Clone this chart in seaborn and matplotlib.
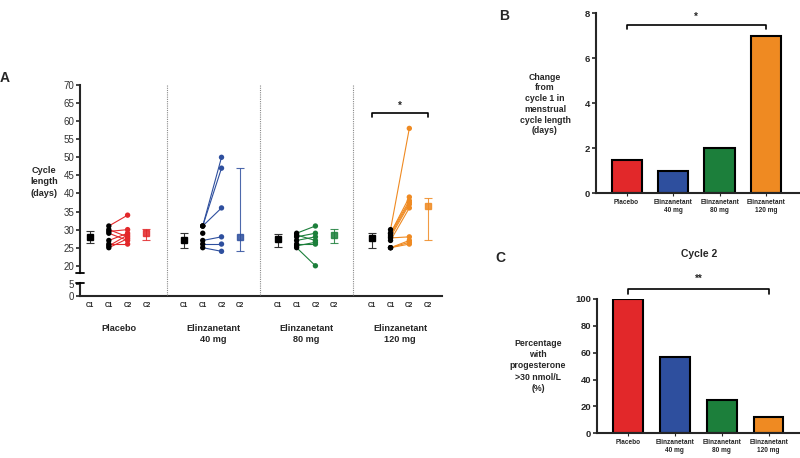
import numpy as np
import pandas as pd
import matplotlib
matplotlib.use("Agg")
import matplotlib.pyplot as plt
import seaborn as sns
from matplotlib.lines import Line2D
from matplotlib.transforms import blended_transform_factory

# ---- data ----
groups = ["Placebo", "Elinzanetant\n40 mg", "Elinzanetant\n80 mg", "Elinzanetant\n120 mg"]
colors = ["#E2282A", "#2E4F9E", "#1C7F3B", "#EF8A22"]
tick_names = ["C1", "C1", "C2", "C2"]

placebo_c1 = [31, 30, 29.5, 29, 27, 26, 25.5, 25]
placebo_c2 = [34, 28, 30, 27, 29, 26, 28.5, 27.5]
dose40_c1 = [31, 31, 31, 29, 27, 26, 25]
dose40_c2 = [50, 47, 36, np.nan, 28, 26, 24]
dose80_c1 = [29, 28.5, 28, 27, 26, 25.5, 25]
dose80_c2 = [31, 27, 29, 28, 26, 26.5, 20]
dose120_c1 = [30, 29, 29, 28.5, 28, 27, 27.7, 25, 25, 25]
dose120_c2 = [58, 39, 38, 37.5, 37, 36, 28, 27, 26.5, 26]

c1_mean = [28, 27, 27.4, 27.6]
c1_lo = [26.3, 25, 25.3, 25]
c1_hi = [29.5, 29, 28.8, 29]
c2_mean = [29, 28, 28.5, 36.4]
c2_lo = [27, 24, 26.3, 27.2]
c2_hi = [30.3, 47, 30.3, 38.7]

change_c1 = [1.5, 1, 2, 7]
pct_prog = [100, 57, 25, 12.5]

# ---- style ----
sns.set_style("ticks")
plt.rcParams['font.family'] = ['Liberation Sans', 'DejaVu Sans']

W, H = 800, 458
fig = plt.figure(figsize=(8, 4.58), dpi=100)

def box(l, t, r, b):
    return [l / W, 1 - b / H, (r - l) / W, (b - t) / H]

def ftext(x, y, s, **kw):
    fig.text(x / W, 1 - y / H, s, **kw)

axA = fig.add_axes(box(79.9, 85, 442, 273))
axA0 = fig.add_axes(box(79.9, 283, 442, 296))
axB = fig.add_axes(box(595.5, 13.3, 800, 193.3))
axC = fig.add_axes(box(596.7, 299, 800, 433.3))

# ---- panel A data frame ----
c1_lists = [placebo_c1, dose40_c1, dose80_c1, dose120_c1]
c2_lists = [placebo_c2, dose40_c2, dose80_c2, dose120_c2]
rows = []
for g, (a, b) in enumerate(zip(c1_lists, c2_lists)):
    for i, (v1, v2) in enumerate(zip(a, b)):
        pid = f"{g}_{i}"
        rows.append(dict(group=groups[g], pid=pid, cycle="C1", x=g * 5 + 1, val=v1))
        if not np.isnan(v2):
            rows.append(dict(group=groups[g], pid=pid, cycle="C2", x=g * 5 + 2, val=v2))
df = pd.DataFrame(rows)

pal = dict(zip(groups, colors))
sns.lineplot(data=df, x="x", y="val", hue="group", units="pid", estimator=None,
             palette=pal, lw=0.8, legend=False, ax=axA)
sns.scatterplot(data=df[df.cycle == "C1"], x="x", y="val", color="black", s=15,
                edgecolor="none", legend=False, ax=axA, zorder=3)
sns.scatterplot(data=df[df.cycle == "C2"], x="x", y="val", hue="group", palette=pal, s=15,
                edgecolor="none", legend=False, ax=axA, zorder=3)

for g in range(4):
    axA.errorbar(g * 5, c1_mean[g], yerr=[[c1_mean[g] - c1_lo[g]], [c1_hi[g] - c1_mean[g]]],
                 fmt="s", color="black", ecolor="#333333", ms=4, elinewidth=0.8,
                 capsize=3, capthick=0.8, zorder=4)
    axA.errorbar(g * 5 + 3, c2_mean[g], yerr=[[c2_mean[g] - c2_lo[g]], [c2_hi[g] - c2_mean[g]]],
                 fmt="s", color=colors[g], ecolor=colors[g], ms=4, elinewidth=0.8,
                 capsize=3, capthick=0.8, zorder=4, alpha=0.85)

xl = (-0.54, 18.74)
axA.set_xlim(xl)
axA.set_ylim(18, 70)
axA.set_yticks(range(20, 71, 5))
axA.set_xticks([])
axA.set_xlabel("")
axA.set_ylabel("")
for s in ["top", "right", "bottom"]:
    axA.spines[s].set_visible(False)
axA.spines["left"].set_linewidth(1.5)
axA.tick_params(axis="y", length=3, width=1.2, labelsize=7, pad=1, labelcolor="#333333")

axA0.set_xlim(xl)
axA0.set_ylim(0, 5.5)
axA0.set_yticks([0, 5])
xt = [g * 5 + k for g in range(4) for k in range(4)]
axA0.set_xticks(xt)
axA0.set_xticklabels(tick_names * 4, fontsize=4.7, fontweight="bold")
for s in ["top", "right"]:
    axA0.spines[s].set_visible(False)
axA0.spines["left"].set_linewidth(1.5)
axA0.spines["bottom"].set_linewidth(1.5)
axA0.tick_params(axis="y", length=3, width=1.2, labelsize=7, pad=1, labelcolor="#333333")
axA0.tick_params(axis="x", length=0, pad=4)

# broken axis marks
for yy in (273, 283):
    fig.add_artist(Line2D([76 / W, 83.5 / W], [1 - yy / H, 1 - yy / H],
                          transform=fig.transFigure, color="black", lw=1.3))

# dotted group separators
tr = blended_transform_factory(axA.transData, fig.transFigure)
for sx in (4.1, 9.05, 14.0):
    fig.add_artist(Line2D([sx, sx], [1 - 85 / H, 1 - 295 / H], transform=tr,
                          color="#8a8a8a", lw=0.8, ls=(0, (1, 1))))

# significance in A
axA.plot([15, 15, 18, 18], [61.2, 62.2, 62.2, 61.2], color="black", lw=1.2)
axA.text(16.5, 64.2, "*", ha="center", va="center", fontsize=7, fontweight="bold")

# group labels
gx = [118.7, 213.3, 306.5, 400]
for x, lab in zip(gx, groups):
    ftext(x, 324, lab, ha="center", va="top", fontsize=6.6, fontweight="bold", linespacing=1.35)

ftext(44, 182, "Cycle\nlength\n(days)", ha="center", va="center", fontsize=6.6,
      fontweight="bold", linespacing=1.3)
ftext(5, 78, "A", ha="center", va="center", fontsize=10, fontweight="bold")

# ---- panel B ----
sns.barplot(x=groups, y=change_c1, hue=groups, palette=colors, legend=False, ax=axB,
            width=0.65, edgecolor="black", linewidth=1.5, saturation=1)
axB.set_xlim(-0.67, 3.73)
axB.set_ylim(0, 8)
axB.set_yticks([0, 2, 4, 6, 8])
axB.plot([0, 0, 3, 3], [7.3, 7.48, 7.48, 7.3], color="black", lw=1.2)
axB.text(1.5, 7.85, "*", ha="center", va="center", fontsize=7, fontweight="bold")

# ---- panel C ----
sns.barplot(x=groups, y=pct_prog, hue=groups, palette=colors, legend=False, ax=axC,
            width=0.63, edgecolor="black", linewidth=1.5, saturation=1)
axC.set_xlim(-0.67, 3.67)
axC.set_ylim(0, 100)
axC.set_yticks(range(0, 101, 20))
axC.plot([0, 0, 3, 3], [103.5, 107.5, 107.5, 103.5], color="black", lw=1.2, clip_on=False)
axC.text(1.5, 115, "**", ha="center", va="center", fontsize=7, fontweight="bold")

for ax in (axB, axC):
    ax.set_xlabel("")
    ax.set_ylabel("")
    for s in ["top", "right"]:
        ax.spines[s].set_visible(False)
    ax.spines["left"].set_linewidth(1.5)
    ax.spines["bottom"].set_linewidth(1.5)
    ax.tick_params(axis="y", length=3, width=1.2, labelsize=6.8, pad=1)
    ax.tick_params(axis="x", length=2, width=0.8, labelsize=4.7, pad=2)
    for t in ax.get_yticklabels() + ax.get_xticklabels():
        t.set_fontweight("bold")

ftext(545, 104, "Change\nfrom\ncycle 1 in\nmenstrual\ncycle length\n(days)", ha="center",
      va="center", fontsize=6.3, fontweight="bold", linespacing=1.25)
ftext(538, 366, "Percentage\nwith\nprogesterone\n>30 nmol/L\n(%)", ha="center",
      va="center", fontsize=6.3, fontweight="bold", linespacing=1.3)
ftext(699, 254, "Cycle 2", ha="center", va="center", fontsize=7.5, fontweight="bold")
ftext(504, 16, "B", ha="center", va="center", fontsize=10, fontweight="bold")
ftext(500, 258, "C", ha="center", va="center", fontsize=10, fontweight="bold")

fig.savefig("out.png", dpi=100, facecolor="white")
